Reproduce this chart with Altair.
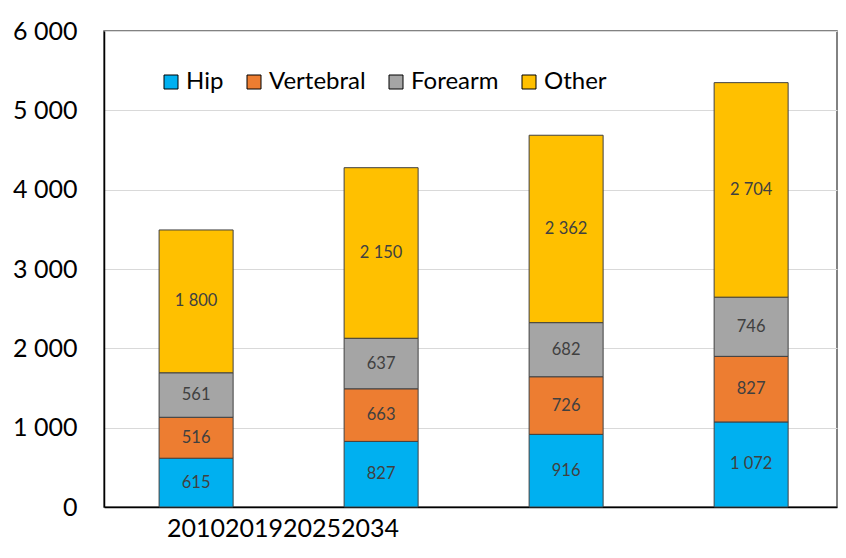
import altair as alt
import pandas as pd

years = ["2010", "2019", "2025", "2034"]
types = ["Hip", "Vertebral", "Forearm", "Other"]
hip = [615, 827, 916, 1072]
vertebral = [516, 663, 726, 827]
forearm = [561, 637, 682, 746]
other = [1800, 2150, 2362, 2704]
colors = ["#00B0F0", "#ED7D31", "#A5A5A5", "#FFC000"]

rows = []
for i, yr in enumerate(years):
    for j, (t, s) in enumerate(zip(types, [hip, vertebral, forearm, other])):
        rows.append({"year": yr, "type": t, "value": s[i], "order": j})
df = pd.DataFrame(rows)

FONT = "Lato"

base = alt.Chart(df).transform_stack(
    stack="value", as_=["v0", "v1"], groupby=["year"], sort=[alt.SortField("order")]
).transform_calculate(
    mid="(datum.v0 + datum.v1) / 2",
    lab="replace(format(datum.value, ','), ',', ' ')",
)

xscale = alt.Scale(paddingInner=0.6, paddingOuter=0.281, align=0.53)

xenc = alt.X(
    "year:N", sort=years, scale=xscale,
    axis=alt.Axis(labels=False, ticks=False, title=None, domainColor="black", domainWidth=1.5),
)

bars = base.mark_bar(stroke="#404040", strokeWidth=1).encode(
    x=xenc,
    y=alt.Y(
        "v0:Q",
        scale=alt.Scale(domain=[0, 6000], nice=False),
        axis=alt.Axis(
            values=list(range(0, 7000, 1000)),
            labelExpr="replace(format(datum.value, ','), ',', ' ')",
            labelFontSize=25, labelFont=FONT, labelColor="black", labelPadding=27,
            ticks=False, domainColor="black", domainWidth=1.5,
            gridColor="#d9d9d9", title=None,
        ),
    ),
    y2="v1:Q",
    color=alt.Color(
        "type:N",
        scale=alt.Scale(domain=types, range=colors),
        legend=alt.Legend(
            title=None, orient="none", legendX=55, legendY=39, direction="horizontal",
            symbolType="square", symbolSize=196, symbolStrokeColor="black",
            symbolStrokeWidth=1, labelFontSize=24, labelFont=FONT, labelColor="black",
            columnPadding=18, labelOffset=3,
        ),
    ),
)

labels = base.mark_text(fontSize=16.5, color="#404040", font=FONT).encode(
    x=alt.X("year:N", sort=years, scale=xscale),
    y=alt.Y("mid:Q"),
    text="lab:N",
)

year_text = alt.Chart(pd.DataFrame({"t": ["".join(years)]})).mark_text(
    align="left", baseline="alphabetic", fontSize=25, font=FONT, color="black"
).encode(x=alt.value(63), y=alt.value(506), text="t:N")

chart = alt.layer(bars, labels, year_text).properties(
    width=733, height=476,
    autosize=alt.AutoSizeParams(type="none"),
    padding={"left": 96, "top": 23, "right": 1, "bottom": 37},
).configure_view(stroke="#595959", strokeWidth=1.5)

chart.save("out.html", embed_options={"renderer": "svg", "actions": False})
